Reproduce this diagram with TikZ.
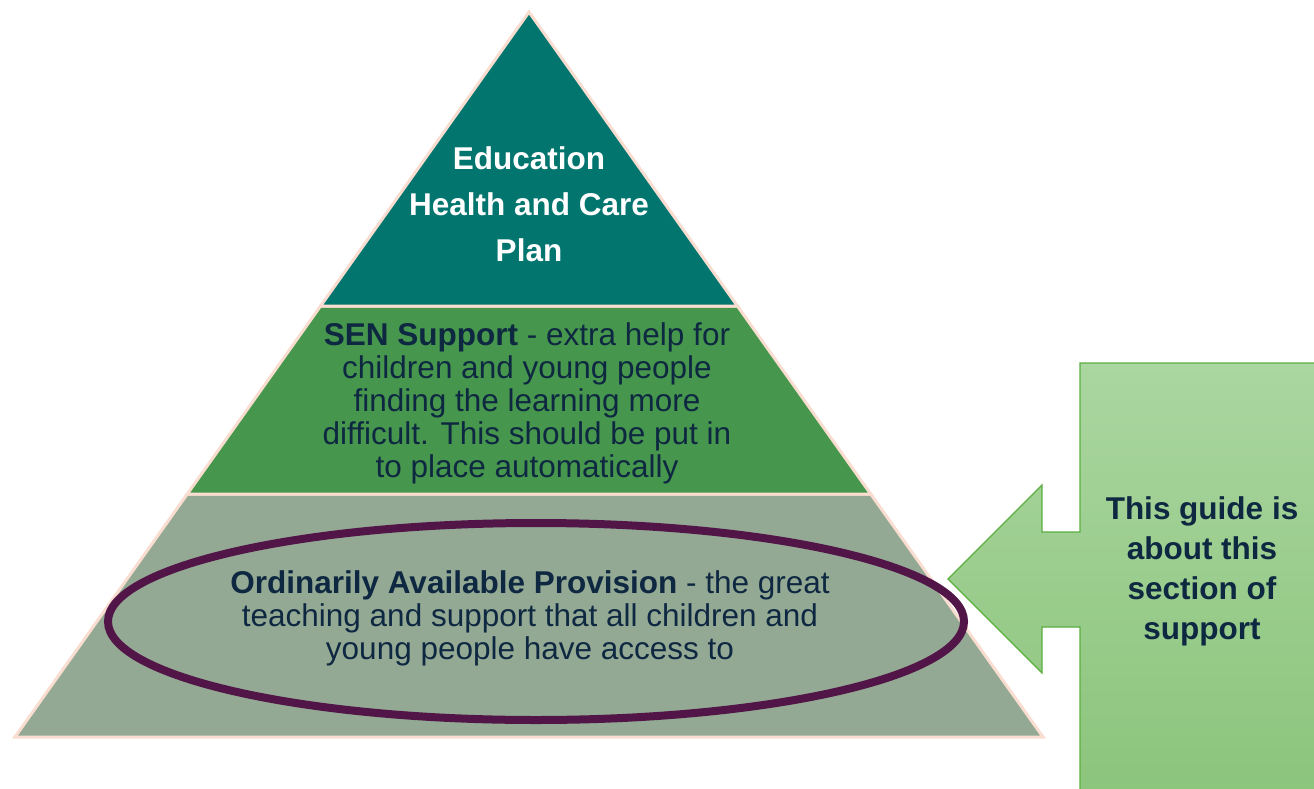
\documentclass[tikz,border=0pt]{standalone}
\usepackage{fontspec}
\setmainfont{Liberation Sans}
\usetikzlibrary{shapes.geometric}
\definecolor{teal1}{HTML}{02756F}
\definecolor{green1}{HTML}{46964D}
\definecolor{sage}{HTML}{94A994}
\definecolor{rim}{HTML}{F9DDD0}
\definecolor{navy}{HTML}{0E2841}
\definecolor{plum}{HTML}{521548}
\definecolor{calltop}{HTML}{AAD6A0}
\definecolor{callbot}{HTML}{8BC47B}
\definecolor{callrim}{HTML}{5BAF3F}
\tikzset{
  level/.style={draw=rim, line width=3pt, line join=miter},
  lbl/.style={inner sep=0pt, align=center, text=navy},
}
\begin{document}
\begin{tikzpicture}[x=1pt,y=-1pt]
\useasboundingbox (0,0) rectangle (1314,789);
\clip (0,0) rectangle (1314,789);
% pyramid levels
\fill[sage, level] (187.3,494) -- (870.7,494) -- (1043,737) -- (15,737) -- cycle;
\fill[green1, level] (320.6,306) -- (737.4,306) -- (870.7,494) -- (187.3,494) -- cycle;
\fill[teal1, level] (529,12) -- (737.4,306) -- (320.6,306) -- cycle;
% highlight ellipse
\draw[plum, line width=8pt] (536,621.5) ellipse [x radius=428, y radius=98.5];
% callout
\shade[top color=calltop, bottom color=callbot, draw=callrim, line width=1.3pt]
  (1080,363) -- (1330,363) -- (1330,800) -- (1080,800) -- (1080,627) -- (1042,627)
  -- (1042,673) -- (948,579) -- (1042,485) -- (1042,532) -- (1080,532) -- cycle;
% texts
\node[lbl, text=white, font=\fontsize{31.5}{46}\selectfont\bfseries] (ehcp) at (529,204)
  {Education\\Health and Care\\Plan};
\node[lbl, font=\fontsize{31.5}{33}\selectfont] (sen) at (527,403.5)
  {\textbf{SEN Support} - extra help for\\children and young people\\finding the learning more\\difficult. This should be put in\\to place automatically};
\node[lbl, font=\fontsize{31.5}{33}\selectfont] (oap) at (530,618)
  {\textbf{Ordinarily Available Provision} - the great\\teaching and support that all children and\\young people have access to};
\node[lbl, font=\fontsize{31.5}{40}\selectfont\bfseries] (guide) at (1202,571)
  {This guide is\\about this\\section of\\support};
\end{tikzpicture}
\end{document}
